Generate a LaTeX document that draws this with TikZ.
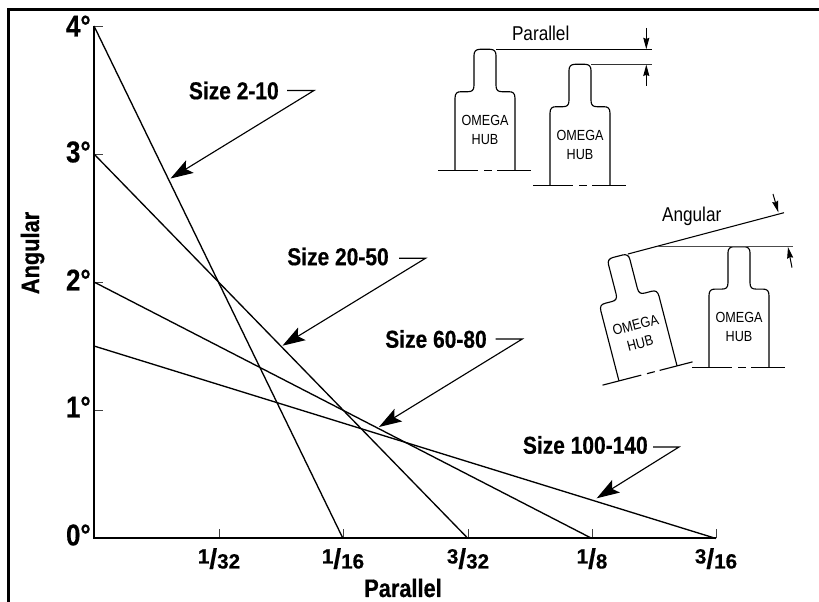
\documentclass[tikz,border=0pt]{standalone}
\usepackage{fontspec}
\setmainfont[FakeStretch=0.86,BoldFeatures={FakeBold=0.5}]{Liberation Sans}
\newfontfamily\fracfont[BoldFeatures={FakeBold=0.4}]{Liberation Sans}
\usetikzlibrary{arrows.meta}
\newcommand{\hubfont}{\fontsize{11}{12}\selectfont}
\newcommand{\tickfrac}[2]{\raisebox{3.75pt}{#1}{\fontsize{21}{21}\selectfont/}#2}
\tikzset{
  x=0.75pt,y=-0.75pt,
  framel/.style={line width=2.25pt},
  axisl/.style={line width=1.5pt},
  curvel/.style={line width=1pt},
  tickl/.style={line width=0.7pt,black!75},
  leader/.style={line width=0.85pt,-{Stealth[length=17pt,width=11pt,inset=3.5pt]}},
  dimline/.style={line width=0.75pt,-{Stealth[length=8.5pt,width=4.5pt,inset=0.8pt]}},
  refline/.style={line width=0.8pt},
  biglabel/.style={inner sep=0pt,font=\bfseries\fontsize{22.5}{24}\selectfont},
  sizelabel/.style={inner sep=0pt,font=\bfseries\fontsize{18.3}{20}\selectfont},
  axistitle/.style={inner sep=0pt,font=\bfseries\fontsize{19}{21}\selectfont},
  fraclabel/.style={inner sep=0pt,anchor=base,font=\fracfont\bfseries\fontsize{15.5}{17}\selectfont},
  thinlabel/.style={inner sep=0pt,font=\fontsize{15}{17}\selectfont},
  hubtext/.style={inner sep=0pt,align=center,transform shape,font=\hubfont},
  hub/.pic={
    \draw[line width=0.85pt] (-30,0) -- (-30,-72)
      .. controls (-30,-77) and (-28,-78.6) .. (-24,-78.6) -- (-17,-78.6)
      .. controls (-13,-78.6) and (-11,-80) .. (-11,-85) -- (-11,-115)
      .. controls (-11,-119) and (-9,-121) .. (-5,-121) -- (5,-121)
      .. controls (9,-121) and (11,-119) .. (11,-115) -- (11,-85)
      .. controls (11,-80) and (13,-78.6) .. (17,-78.6) -- (24,-78.6)
      .. controls (28,-78.6) and (30,-77) .. (30,-72) -- (30,0);
    \draw[line width=0.85pt] (-47,0) -- (-7,0) (-1,0) -- (7,0) (12,0) -- (46,0);
    \node[hubtext] (-omega) at (0,-50) {OMEGA};
    \node[hubtext] (-hubw) at (0,-31) {HUB};
  }
}
\begin{document}
\begin{tikzpicture}
\useasboundingbox (0,0) rectangle (819,602);
% frame
\draw[framel] (8,602) -- (8,9.5) -- (819,9.5);
% axes
\coordinate (O) at (94,538.5);
\coordinate (Y4) at (94,26);
\coordinate (Y3) at (94,154);
\coordinate (Y2) at (94,282);
\coordinate (Y1) at (94,410);
\coordinate (Yh) at (94,346);
\coordinate (X1) at (219,538.5);
\coordinate (X2) at (343,538.5);
\coordinate (X3) at (468,538.5);
\coordinate (X4) at (592,538.5);
\coordinate (X6) at (716,538.5);
\draw[tickl] (Y4) -- +(9,0) (Y3) -- +(9,0) (Y2) -- +(9,0) (Y1) -- +(9,0);
\draw[tickl] (X1) -- +(0,-9) (X2) -- +(0,-9) (X3) -- +(0,-9) (X4) -- +(0,-9) (X6) -- +(0,-9);
\draw[axisl] (Y4) -- (O) -- (X6);
\draw[curvel] (Y4) -- (X2);
\draw[curvel] (Y3) -- (X3);
\draw[curvel] (Y2) -- (X4);
\draw[curvel] (Yh) -- (X6);
% axis labels
\node[biglabel,anchor=east] (l4) at (91,26) {4°};
\node[biglabel,anchor=east] (l3) at (91,152) {3°};
\node[biglabel,anchor=east] (l2) at (91,280) {2°};
\node[biglabel,anchor=east] (l1) at (91,407) {1°};
\node[biglabel,anchor=east] (l0) at (91,535) {0°};
\node[fraclabel] (f1) at (219,568.5) {\tickfrac{1}{32}};
\node[fraclabel] (f2) at (343,568.5) {\tickfrac{1}{16}};
\node[fraclabel] (f3) at (468,568.5) {\tickfrac{3}{32}};
\node[fraclabel] (f4) at (592,568.5) {\tickfrac{1}{8}};
\node[fraclabel] (f6) at (716,568.5) {\tickfrac{3}{16}};
\node[axistitle,anchor=base] (xt) at (403,597) {Parallel};
\node[axistitle,rotate=90,anchor=base] (yt) at (39,253) {Angular};
% size callouts
\node[sizelabel,anchor=east] (s1) at (279,90.5) {Size 2-10};
\coordinate (s1a) at (287,90.5);
\coordinate (s1b) at (314,90.5);
\coordinate (s1c) at (170.5,178.5);
\draw[leader] (s1a) -- (s1b) -- (s1c);
\node[sizelabel,anchor=east] (s2) at (389,256.5) {Size 20-50};
\coordinate (s2a) at (399,258.3);
\coordinate (s2b) at (425.5,258.3);
\coordinate (s2c) at (282.5,345.7);
\draw[leader] (s2a) -- (s2b) -- (s2c);
\node[sizelabel,anchor=east] (s3) at (487,339) {Size 60-80};
\coordinate (s3a) at (495.7,339);
\coordinate (s3b) at (522.3,339);
\coordinate (s3c) at (379,427);
\draw[leader] (s3a) -- (s3b) -- (s3c);
\node[sizelabel,anchor=east] (s4) at (648,445) {Size 100-140};
\coordinate (s4a) at (653,447);
\coordinate (s4b) at (679,447);
\coordinate (s4c) at (596.7,498.3);
\draw[leader] (s4a) -- (s4b) -- (s4c);
% hubs
\pic (h1) at (485,170.3) {hub};
\pic (h2) at (580,185.3) {hub};
\pic (h3) at (739,367.7) {hub};
\pic[rotate=14.5] (h4) at (648,373.4) {hub};
% parallel detail
\node[thinlabel] (pt) at (540.7,33) {Parallel};
\coordinate (pa) at (496,49.5);
\coordinate (pb) at (652,49.5);
\coordinate (pc) at (591,64.3);
\coordinate (pd) at (652,64.3);
\coordinate (pe) at (646.3,28);
\coordinate (pf) at (646.3,49.2);
\coordinate (pg) at (646.3,86);
\coordinate (ph) at (646.3,64.6);
\draw[refline] (pa) -- (pb);
\draw[refline,black!80] (pc) -- (pd);
\draw[dimline] (pe) -- (pf);
\draw[dimline] (pg) -- (ph);
% angular detail
\node[thinlabel] (at) at (691.7,216) {Angular};
\coordinate (aa) at (628,254);
\coordinate (ab) at (784,212.7);
\coordinate (ac) at (658,246.7);
\coordinate (ad) at (792.7,246.7);
\coordinate (ae) at (773,194);
\coordinate (af) at (778.3,212.3);
\coordinate (ag) at (792,267.7);
\coordinate (ah) at (788,247);
\draw[refline] (aa) -- (ab);
\draw[refline,black!70] (ac) -- (ad);
\draw[dimline] (ae) -- (af);
\draw[dimline] (ag) -- (ah);
\end{tikzpicture}
\end{document}
